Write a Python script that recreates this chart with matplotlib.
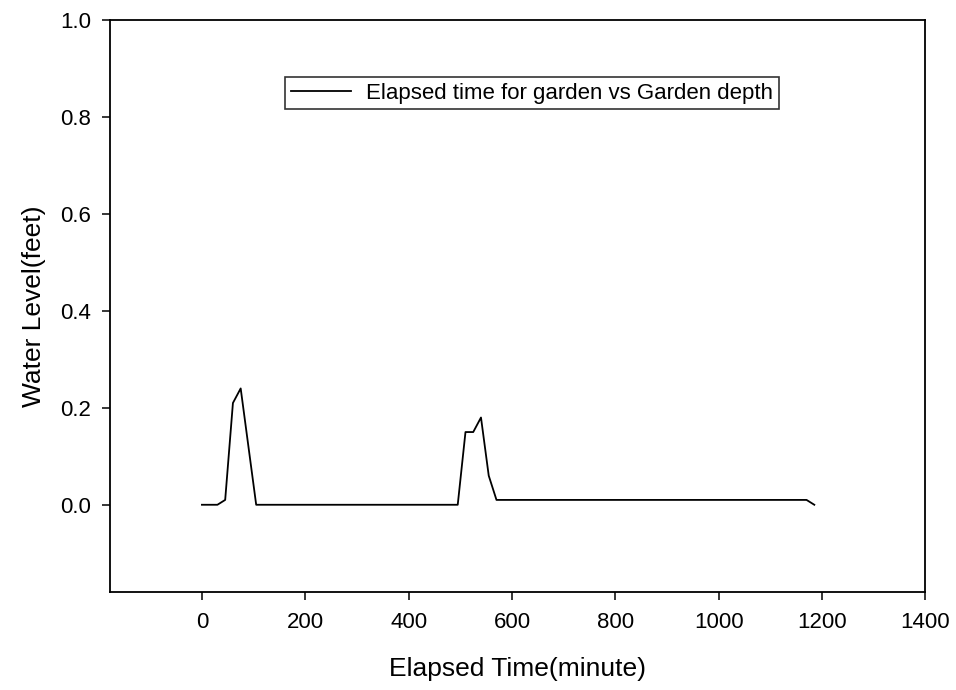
import matplotlib.pyplot as plt
import numpy as np

plt.rcParams['font.family'] = ['Liberation Sans', 'DejaVu Sans']

# elapsed time (minutes) and garden water depth (feet)
elapsed_time = [0, 15, 30, 45, 60, 75, 90, 105, 495, 510, 525, 540, 555, 570, 1170, 1185]
garden_depth = [0, 0, 0, 0.01, 0.21, 0.24, 0.12, 0, 0, 0.15, 0.15, 0.18, 0.06, 0.01, 0.01, 0]

x_ticks = [0, 200, 400, 600, 800, 1000, 1200, 1400]
y_ticks = [0.0, 0.2, 0.4, 0.6, 0.8, 1.0]

fig = plt.figure(figsize=(9.56, 6.9), dpi=100)
ax = fig.add_axes([0.115, 0.142, 0.853, 0.829])

ax.plot(elapsed_time, garden_depth, color='black', lw=1.3,
        label='Elapsed time for garden vs Garden depth')

ax.set_xlim(-178, 1400)
ax.set_ylim(-0.18, 1.0)
ax.set_xticks(x_ticks)
ax.set_yticks(y_ticks)
ax.set_yticklabels(['%.1f' % v for v in y_ticks])

for s in ['top', 'right', 'left', 'bottom']:
    ax.spines[s].set_linewidth(1.3)
ax.tick_params(direction='out', length=5.5, width=1.1, labelsize=16,
               top=False, right=False)
ax.tick_params(axis='x', pad=9)
ax.tick_params(axis='y', pad=8)

ax.set_xlabel('Elapsed Time(minute)', fontsize=19, labelpad=17)
ax.set_ylabel('Water Level(feet)', fontsize=19, labelpad=10)

leg = ax.legend(loc='upper left', bbox_to_anchor=(0.215, 0.9), borderaxespad=0,
                fontsize=16, frameon=True, fancybox=False, edgecolor='black',
                handlelength=2.7, borderpad=0.25, handletextpad=0.7)
leg.get_frame().set_linewidth(1.2)

fig.savefig('out.png', dpi=100)
